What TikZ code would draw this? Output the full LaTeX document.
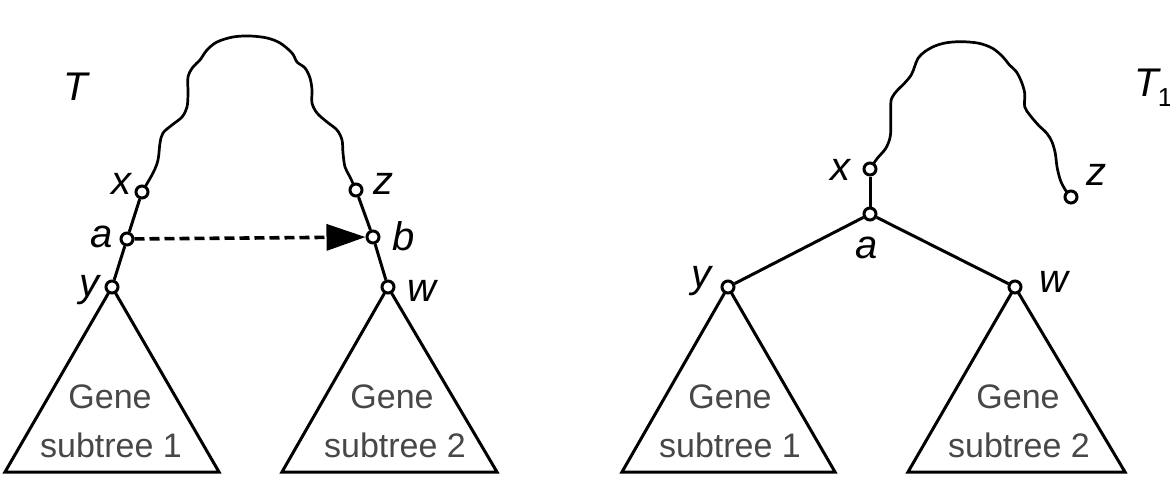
\documentclass[tikz,border=0pt]{standalone}
\usepackage{fontspec}
\setmainfont{Liberation Sans}
\usetikzlibrary{arrows.meta,backgrounds}
\begin{document}
\begin{tikzpicture}[x=1pt,y=-1pt,
  vert/.style={circle,draw,fill=white,line width=3pt,inner sep=0pt,minimum size=12pt},
  lab/.style={font=\fontsize{40}{42}\selectfont\itshape,inner sep=0pt},
  gene/.style={font=\fontsize{34}{40}\selectfont,text=black!72,align=center,inner sep=0pt},
  edge/.style={line width=3pt},
  wave/.style={line width=2.7pt,line cap=round,line join=round},
  transfer/.style={line width=3.6pt,dash pattern=on 10pt off 5pt,-{Triangle[length=39pt,width=26pt]}}]
\useasboundingbox (0,0) rectangle (1170,492);
% ---------- left tree T ----------
\node[vert] (x) at (142,192) {};
\node[vert] (a) at (127,239) {};
\node[vert] (y) at (112,287) {};
\node[vert] (z) at (356,190) {};
\node[vert] (b) at (373,237) {};
\node[vert] (w) at (388,287) {};
\coordinate (l1a) at (5,472);
\coordinate (l1b) at (219,472);
\coordinate (l2a) at (282,472);
\coordinate (l2b) at (497,472);
\begin{scope}[on background layer]
\draw[wave] plot[smooth,tension=0.55] coordinates {(x) (153,173) (158,160) (160,143) (163,133) (172,125) (182,117) (187,107) (188,93) (188,77) (193,67) (200,60) (207,50) (217,42) (233,37) (250,36) (267,38) (280,43) (292,53) (297,62) (305,68) (310,78) (312,90) (312,103) (317,113) (327,122) (337,130) (342,140) (343,153) (345,167) (350,177) (z)};
\draw[edge] (x) -- (a) -- (y);
\draw[edge] (z) -- (b) -- (w);
\draw[edge,line join=miter] (y.center) -- (l1a) -- (l1b) -- cycle;
\draw[edge,line join=miter] (w.center) -- (l2a) -- (l2b) -- cycle;
\end{scope}
\draw[transfer] (a) -- (b);
\node[lab] (tT) at (76,87) {T};
\node[lab] (lx) at (121,184) {x};
\node[lab] (la) at (102,237) {a};
\node[lab] (ly) at (89,290) {y};
\node[lab] (lz) at (383,184) {z};
\node[lab] (lb) at (404,236) {b};
\node[lab] (lw) at (422,291) {w};
\node[gene] (g1) at (110,397) {Gene};
\node[gene] (s1) at (111,445) {subtree 1};
\node[gene] (g2) at (392,397) {Gene};
\node[gene] (s2) at (395,445) {subtree 2};
% ---------- right tree T1 ----------
\node[vert] (x2) at (870,169) {};
\node[vert] (a2) at (870,214) {};
\node[vert] (y2) at (728,287) {};
\node[vert] (w2) at (1015,287) {};
\node[vert] (z2) at (1071,197) {};
\coordinate (r1a) at (622,472);
\coordinate (r1b) at (835,472);
\coordinate (r2a) at (908,472);
\coordinate (r2b) at (1125,472);
\begin{scope}[on background layer]
\draw[wave] plot[smooth,tension=0.55] coordinates {(x2) (877.3,158.3) (885.8,148.3) (890.2,136.7) (890.8,123.3) (890.8,103.3) (892.5,96.7) (897.6,90) (904.4,83.3) (911.2,75) (914.6,66.7) (918,58.3) (924.7,51.7) (934.9,46) (946.8,42.7) (962,41.7) (979,43.3) (992.5,48.3) (1002.7,56.7) (1009.5,65) (1016.3,71.7) (1021.4,81.7) (1024.7,93.3) (1024.7,106.7) (1029.8,115) (1038.3,125) (1046.8,133.3) (1051.9,141.7) (1055.3,153.3) (1057,166.7) (1060.3,180) (1065.4,190) (z2)};
\draw[edge] (x2) -- (a2);
\draw[edge] (a2) -- (y2);
\draw[edge] (a2) -- (w2);
\draw[edge,line join=miter] (y2.center) -- (r1a) -- (r1b) -- cycle;
\draw[edge,line join=miter] (w2.center) -- (r2a) -- (r2b) -- cycle;
\end{scope}
\node[lab] (tT1) at (1147,83) {T};
\node[font=\fontsize{26}{28}\selectfont,inner sep=0pt] (tT1s) at (1165,98) {1};
\node[lab] (lx2) at (840,170) {x};
\node[lab] (la2) at (867,248) {a};
\node[lab] (ly2) at (701,281) {y};
\node[lab] (lz2) at (1096,175) {z};
\node[lab] (lw2) at (1054,282) {w};
\node[gene] (g3) at (730,397) {Gene};
\node[gene] (s3) at (730,445) {subtree 1};
\node[gene] (g4) at (1018,397) {Gene};
\node[gene] (s4) at (1019,445) {subtree 2};
\end{tikzpicture}
\end{document}
